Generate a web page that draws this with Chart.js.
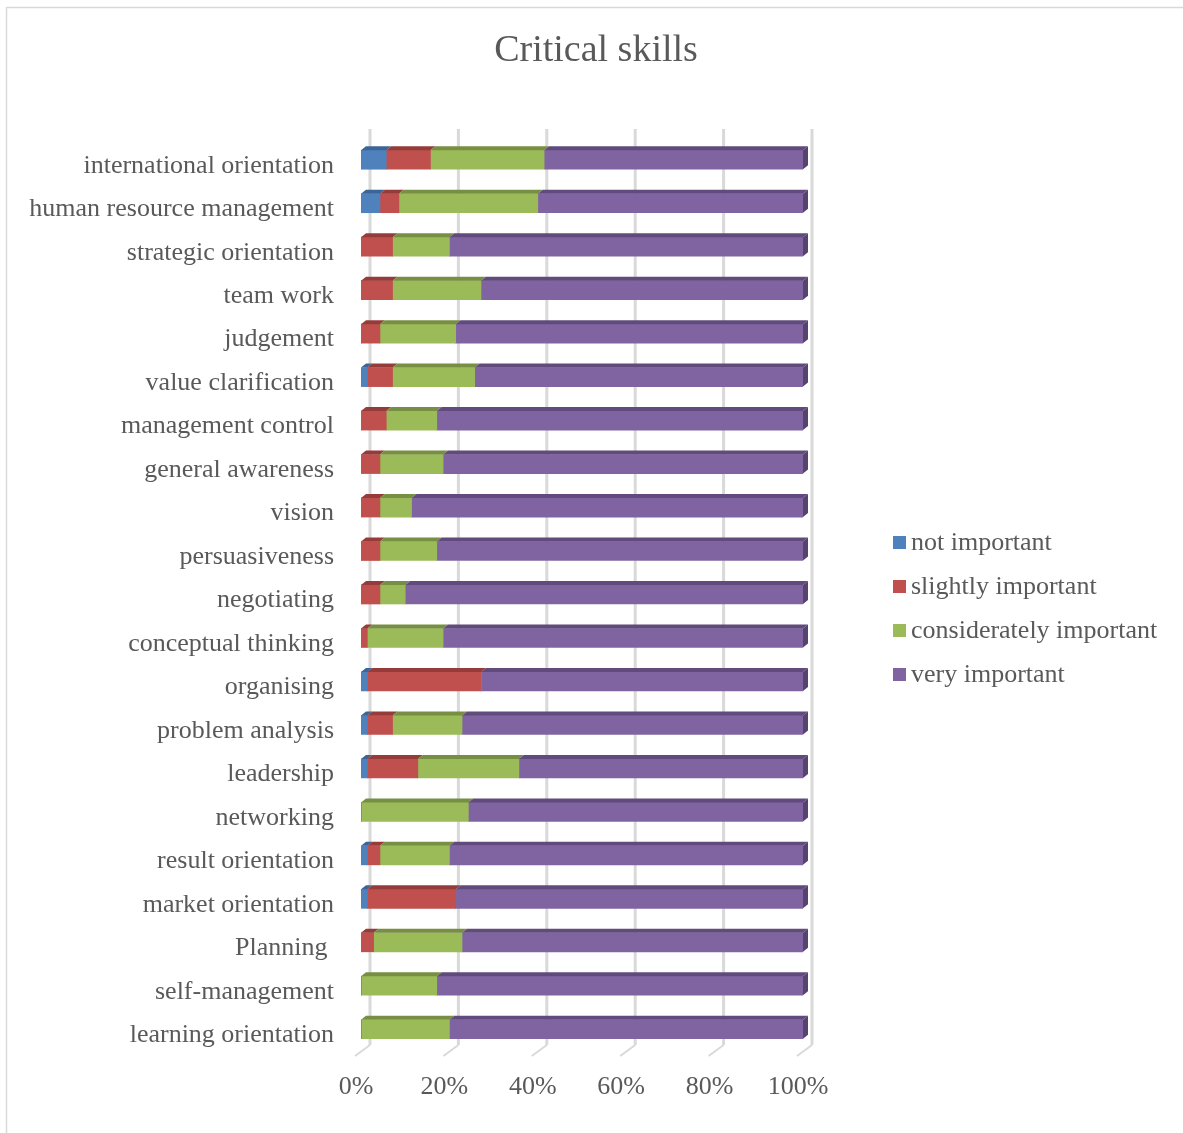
<!DOCTYPE html>
<html>
<head>
<meta charset="utf-8">
<title>Critical skills</title>
<script src="https://cdn.jsdelivr.net/npm/chart.js@4.4.0/dist/chart.umd.min.js"></script>
<style>
  body { margin: 0; background: #fff; }
  canvas { display: block; }
</style>
</head>
<body>
<canvas id="skills-chart" width="1183" height="1133"></canvas>
<script>
const skills = [
    'international orientation',
    'human resource management',
    'strategic orientation',
    'team work',
    'judgement',
    'value clarification',
    'management control',
    'general awareness',
    'vision',
    'persuasiveness',
    'negotiating',
    'conceptual thinking',
    'organising',
    'problem analysis',
    'leadership',
    'networking',
    'result orientation',
    'market orientation',
    'Planning ',
    'self-management',
    'learning orientation',
];

// number of answers per skill
const notImportant       = [4, 3, 0, 0, 0, 1, 0, 0, 0, 0, 0, 0, 1, 1, 1, 0, 1, 1, 0, 0, 0];
const slightlyImportant  = [7, 3, 5, 5, 3, 4, 4, 3, 3, 3, 3, 1, 18, 4, 8, 0, 2, 14, 2, 0, 0];
const considerImportant  = [18, 22, 9, 14, 12, 13, 8, 10, 5, 9, 4, 12, 0, 11, 16, 17, 11, 0, 14, 12, 14];
const veryImportant      = [41, 42, 56, 51, 55, 52, 58, 57, 62, 58, 63, 57, 51, 54, 45, 53, 56, 55, 54, 58, 56];

const percentTicks = [0, 20, 40, 60, 80, 100];
const chartTitle = 'Critical skills';

// 100% stacked: each answer as a share of that skill's answers
const totals = skills.map((s, i) =>
    notImportant[i] + slightlyImportant[i] + considerImportant[i] + veryImportant[i]);
const share = counts => counts.map((c, i) => c / totals[i] * 100);

const textColor = '#595959';
const gridColor = '#d9d9d9';
const depth = { x: 5, y: 4 };

Chart.defaults.font.family = "'Liberation Serif', serif";
Chart.defaults.font.size = 26;
Chart.defaults.color = textColor;

const data = {
    labels: skills,
    datasets: [
        { label: 'not important', data: share(notImportant),
          backgroundColor: '#4f81bd', topColor: '#3d6496', sideColor: '#35598a' },
        { label: 'slightly important', data: share(slightlyImportant),
          backgroundColor: '#c0504d', topColor: '#953c3a', sideColor: '#873533' },
        { label: 'considerately important', data: share(considerImportant),
          backgroundColor: '#9bbb59', topColor: '#778f42', sideColor: '#6b823b' },
        { label: 'very important', data: share(veryImportant),
          backgroundColor: '#8064a2', topColor: '#614b7d', sideColor: '#574370' },
    ]
};

// frame, title, back-wall gridlines, bar depth faces and the side legend
const frame3d = {
    id: 'frame3d',
    beforeDraw(chart) {
        const ctx = chart.ctx;
        ctx.save();
        ctx.strokeStyle = gridColor;
        ctx.lineWidth = 1.5;
        ctx.strokeRect(6.5, 7.5, chart.width + 10, chart.height + 10);
        ctx.fillStyle = textColor;
        ctx.font = "38px 'Liberation Serif', serif";
        ctx.textAlign = 'center';
        ctx.textBaseline = 'middle';
        ctx.fillText(chartTitle, 596, 51);
        ctx.restore();
    },
    beforeDatasetsDraw(chart) {
        const ctx = chart.ctx;
        const area = chart.chartArea;
        const xs = chart.scales.x;
        ctx.save();
        ctx.strokeStyle = gridColor;
        percentTicks.forEach(v => {
            const px = xs.getPixelForValue(v);
            ctx.lineWidth = 3;
            ctx.beginPath();
            ctx.moveTo(px + 9, area.top - 9);
            ctx.lineTo(px + 9, area.bottom - 6);
            ctx.stroke();
            ctx.lineWidth = 2;
            ctx.beginPath();
            ctx.moveTo(px + 9, area.bottom - 6);
            ctx.lineTo(px - 6, area.bottom + 5);
            ctx.stroke();
        });
        ctx.restore();
    },
    afterDatasetsDraw(chart) {
        const ctx = chart.ctx;
        const sets = chart.data.datasets;
        ctx.save();
        sets.forEach((ds, di) => {
            chart.getDatasetMeta(di).data.forEach(bar => {
                const p = bar.getProps(['x', 'y', 'base', 'height'], true);
                if (p.x - p.base < 0.5) return;
                const top = p.y - p.height / 2;
                ctx.fillStyle = ds.topColor;
                ctx.beginPath();
                ctx.moveTo(p.base, top);
                ctx.lineTo(p.x, top);
                ctx.lineTo(p.x + depth.x, top - depth.y);
                ctx.lineTo(p.base + depth.x, top - depth.y);
                ctx.closePath();
                ctx.fill();
            });
        });
        // end face on the outer segment of every bar
        skills.forEach((s, i) => {
            for (let di = sets.length - 1; di >= 0; di--) {
                const bar = chart.getDatasetMeta(di).data[i];
                const p = bar.getProps(['x', 'y', 'base', 'height'], true);
                if (p.x - p.base < 0.5) continue;
                const top = p.y - p.height / 2;
                const bottom = p.y + p.height / 2;
                ctx.fillStyle = sets[di].sideColor;
                ctx.beginPath();
                ctx.moveTo(p.x, top);
                ctx.lineTo(p.x + depth.x, top - depth.y);
                ctx.lineTo(p.x + depth.x, bottom - depth.y);
                ctx.lineTo(p.x, bottom);
                ctx.closePath();
                ctx.fill();
                break;
            }
        });
        ctx.restore();
    },
    afterDraw(chart) {
        const ctx = chart.ctx;
        ctx.save();
        ctx.font = "26px 'Liberation Serif', serif";
        ctx.textBaseline = 'middle';
        chart.data.datasets.forEach((ds, i) => {
            const y = 542 + i * 44;
            ctx.fillStyle = ds.backgroundColor;
            ctx.fillRect(893, y - 6, 13, 13);
            ctx.fillStyle = textColor;
            ctx.fillText(ds.label, 911, y + 1);
        });
        ctx.restore();
    }
};

const config = {
    type: 'bar',
    data: data,
    options: {
        indexAxis: 'y',
        responsive: false,
        animation: false,
        barThickness: 19,
        borderWidth: 0,
        layout: {
            padding: { left: 0, right: 380, top: 138, bottom: 0 }
        },
        plugins: {
            legend: { display: false },
            tooltip: { enabled: false },
            title: { display: false }
        },
        scales: {
            x: {
                stacked: true,
                min: 0,
                max: 100,
                grid: { display: false, drawTicks: false },
                border: { display: false },
                afterBuildTicks: scale => {
                    scale.ticks = percentTicks.map(v => ({ value: v }));
                },
                afterFit: scale => { scale.height = 82; },
                ticks: {
                    padding: 21,
                    labelOffset: -5,
                    callback: v => v + '%'
                }
            },
            y: {
                stacked: true,
                grid: { display: false, drawTicks: false },
                border: { display: false },
                afterFit: scale => { scale.width = 361; },
                ticks: {
                    padding: 27,
                    labelOffset: 6,
                    autoSkip: false
                }
            }
        }
    },
    plugins: [frame3d]
};

const skillsChart = new Chart(
    document.getElementById('skills-chart'),
    config,
);
</script>
</body>
</html>
